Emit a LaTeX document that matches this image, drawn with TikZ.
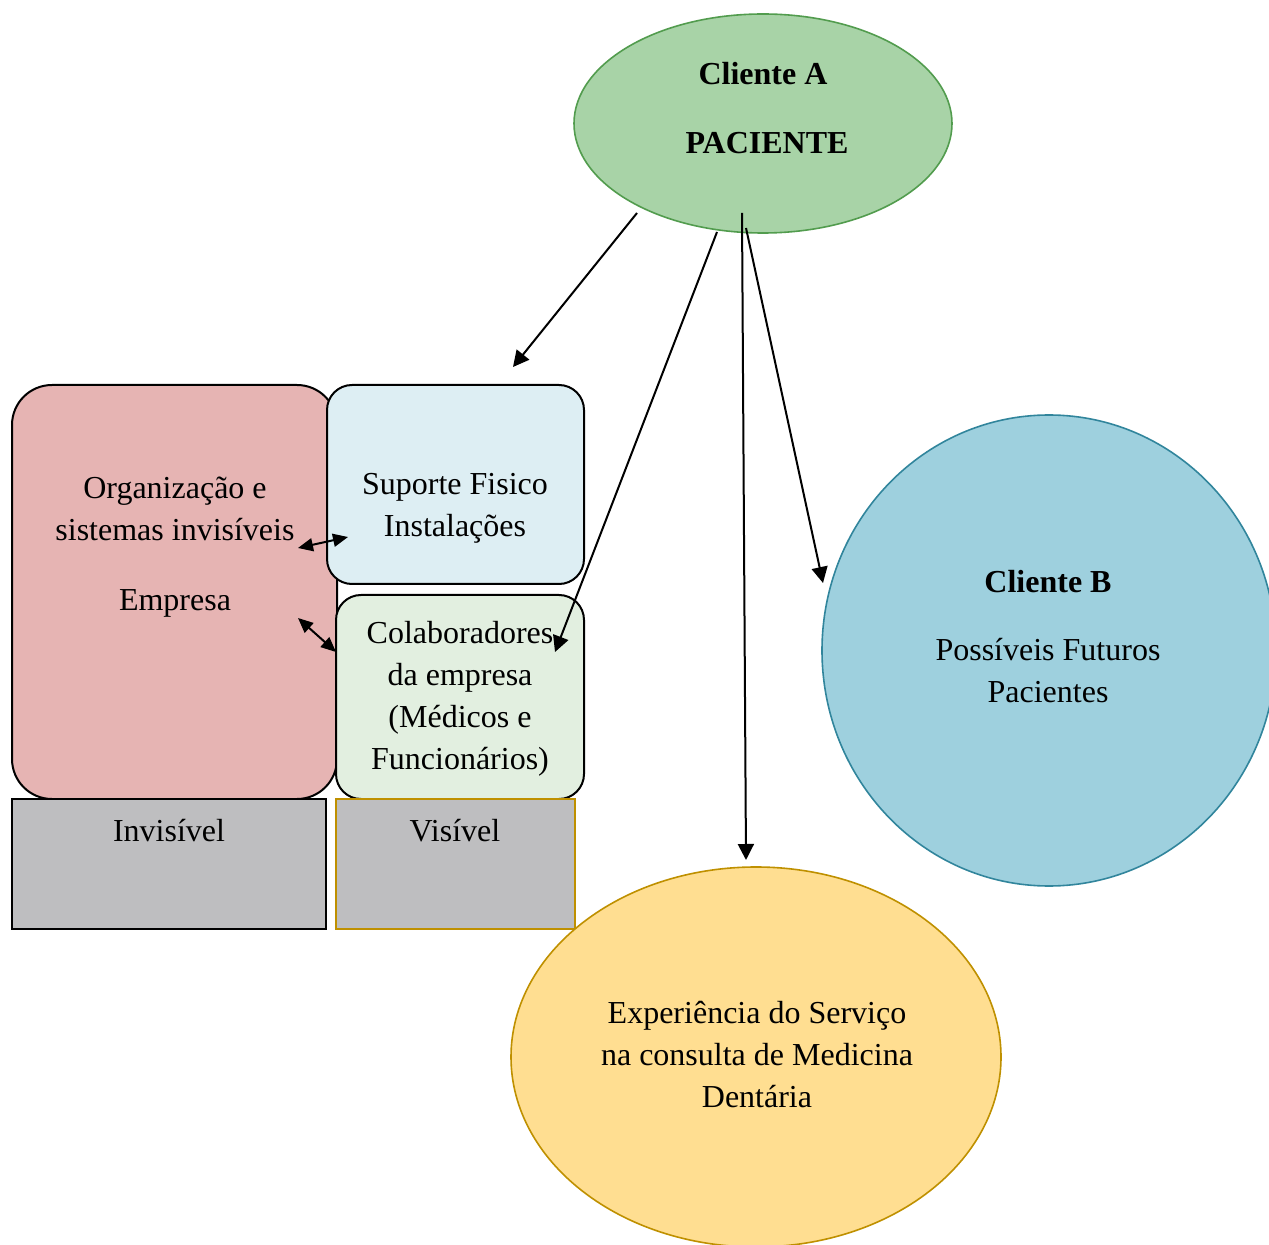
\documentclass[tikz,border=0pt]{standalone}
\usepackage{fontspec}
\setmainfont{Liberation Serif}
\usetikzlibrary{shapes.geometric,arrows.meta}

\definecolor{orgfill}{RGB}{230,180,179}
\definecolor{supfill}{RGB}{221,238,243}
\definecolor{colfill}{RGB}{226,239,224}
\definecolor{grayfill}{RGB}{190,190,192}
\definecolor{goldline}{RGB}{191,144,0}
\definecolor{afill}{RGB}{168,211,167}
\definecolor{aline}{RGB}{82,156,78}
\definecolor{bfill}{RGB}{158,208,222}
\definecolor{bline}{RGB}{49,133,156}
\definecolor{expfill}{RGB}{255,222,145}

\begin{document}
\begin{tikzpicture}[x=0.5pt,y=-0.5pt,
  rbox/.style={draw=black, line width=1pt, inner sep=0pt},
  gbox/.style={rectangle, line width=1pt, fill=grayfill, inner sep=0pt,
    minimum height=65pt},
  oval/.style={ellipse, line width=0.8pt, inner sep=0pt},
  txt/.style={font=\fontsize{16pt}{21pt}\selectfont, align=center, inner sep=0pt},
  btxt/.style={txt, font=\fontsize{16pt}{21pt}\selectfont\bfseries},
  arr/.style={line width=1pt, -{Triangle[length=8pt,width=8pt]}},
  darr/.style={line width=1pt,
    {Triangle[length=7.5pt,width=6.5pt]}-{Triangle[length=7.5pt,width=6.5pt]}}]

\useasboundingbox (0,0) rectangle (1269,1245);
\clip (0,0) rectangle (1269,1245);

% --- company blocks ---
\node[rbox, fill=orgfill, rounded corners=20pt,
  minimum width=162.5pt, minimum height=207pt] (org) at (174.5,592) {};
\node[rbox, fill=supfill, rounded corners=12.5pt,
  minimum width=128.5pt, minimum height=99.5pt] (sup) at (455.5,484.5) {};
\node[rbox, fill=colfill, rounded corners=12.5pt,
  minimum width=124pt, minimum height=102pt] (col) at (460,697) {};
\node[gbox, draw=black, minimum width=157pt] (inv) at (169,864) {};
\node[gbox, draw=goldline, minimum width=119.5pt] (vis) at (455.5,864) {};

\node[txt] (orgT) at (175,509) {Organização e\\sistemas invisíveis};
\node[txt] (empT) at (175,603) {Empresa};
\node[txt] (supT) at (455,508) {Suporte Fisico\\Instalações};
\node[txt] (colT) at (460,699) {Colaboradores\\da empresa\\(Médicos e\\Funcionários)};
\node[txt] (invT) at (169,831) {Invisível};
\node[txt] (visT) at (455,831) {Visível};

% --- clients and experience ---
\node[oval, draw=aline, fill=afill, minimum width=189pt, minimum height=109.5pt]
  (cliA) at (763,123.5) {};
\node[btxt] (cliAT) at (763,74) {Cliente A};
\node[btxt] (pacT) at (767,143) {PACIENTE};

\node[oval, draw=bline, fill=bfill, minimum width=227pt, minimum height=235.5pt]
  (cliB) at (1049,650.5) {};
\node[btxt] (cliBT) at (1048,582) {Cliente B};
\node[txt] (futT) at (1048,671) {Possíveis Futuros\\Pacientes};

\node[oval, draw=goldline, fill=expfill, minimum width=245pt, minimum height=190pt]
  (exp) at (756,1057) {};
\node[txt] (expT) at (757,1055) {Experiência do Serviço\\na consulta de Medicina\\Dentária};

% --- connector end points ---
\coordinate (a1s) at (637,213);
\coordinate (a1e) at (513,367);
\coordinate (a2s) at (717,232);
\coordinate (a2e) at (555,652);
\coordinate (a3s) at (742,213);
\coordinate (a3e) at (746,860);
\coordinate (a4s) at (746,228);
\coordinate (a4e) at (823,583);
\coordinate (d1s) at (298,548);
\coordinate (d1e) at (348,537);
\coordinate (d2s) at (298,618);
\coordinate (d2e) at (336,652);

% --- connectors ---
\draw[arr] (a1s) -- (a1e);
\draw[arr] (a2s) -- (a2e);
\draw[arr] (a3s) -- (a3e);
\draw[arr] (a4s) -- (a4e);
\draw[darr] (d1s) -- (d1e);
\draw[darr] (d2s) -- (d2e);

\end{tikzpicture}
\end{document}
